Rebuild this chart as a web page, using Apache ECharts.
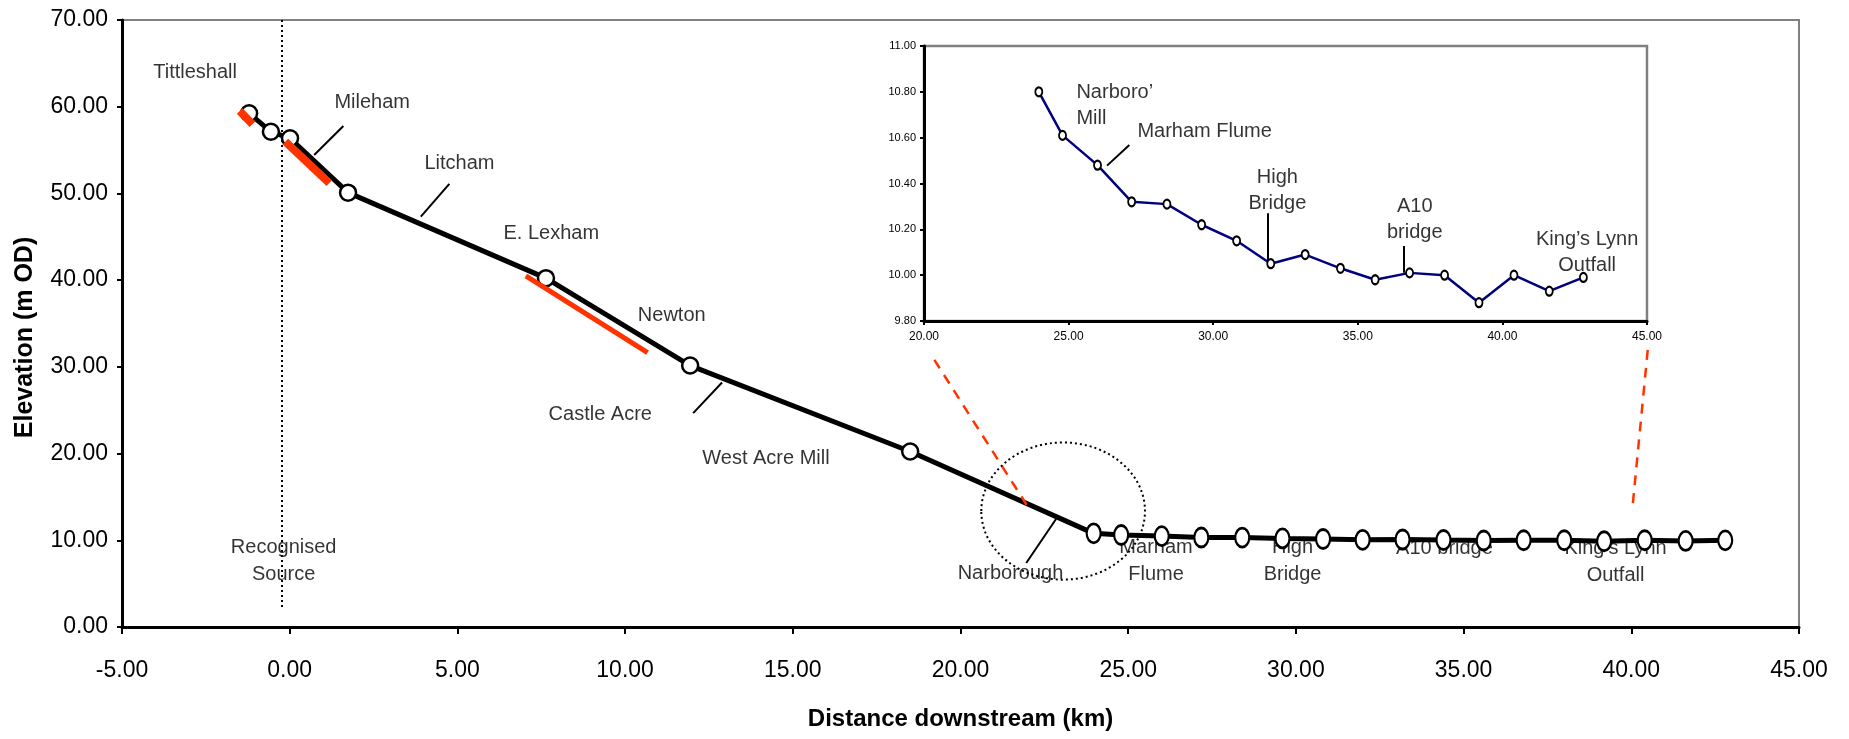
<!DOCTYPE html>
<html>
<head>
<meta charset="utf-8">
<script src="https://cdn.jsdelivr.net/npm/echarts@6/dist/echarts.min.js"></script>
<style>
html,body{margin:0;padding:0;background:#fff;}
#c{width:1849px;height:739px;}
</style>
</head>
<body>
<div id="c"></div>
<script>
// ---- Data (km downstream, elevation m OD) ----
const upstreamKm   = [-1.21, -0.56, 0.01, 1.74, 7.64, 11.94, 18.50];
const upstreamElev = [59.24, 57.12, 56.36, 50.09, 40.23, 30.15, 20.24];
const lowerKm   = [23.97, 24.79, 26.00, 27.18, 28.40, 29.60, 30.81, 31.99, 33.18, 34.40, 35.60, 36.79, 38.00, 39.19, 40.40, 41.62, 42.80];
const lowerElev = [10.80, 10.61, 10.48, 10.32, 10.31, 10.22, 10.15, 10.05, 10.09, 10.03, 9.98, 10.01, 10.00, 9.88, 10.00, 9.93, 9.99];

// red reach segments [x1,y1,x2,y2]
const redSegments = [
  [-1.49, 59.51, -1.11, 57.98],
  [-0.13, 55.97, 1.18, 51.18],
  [7.04, 40.49, 10.67, 31.65]
];
const redWidths = [8, 8, 5];

// leader lines main chart
const mainLeaders = [
  [1.60, 57.78, 0.73, 54.44],
  [4.76, 51.10, 3.91, 47.33],
  [12.89, 28.19, 12.03, 24.67],
  [22.85, 12.45, 21.96, 7.38]
];
// leader lines inset
const insetLeaders = [
  [27.10, 10.568, 26.33, 10.478],
  [31.88, 10.27, 31.88, 10.055],
  [36.59, 10.127, 36.59, 10.011]
];
// zoom indicator dashed lines
const zoomLines = [
  [19.22, 30.81, 21.97, 14.10],
  [40.49, 31.96, 40.04, 13.99]
];
// recognised source dotted line
const sourceLine = [-0.23, 70, -0.23, 2.2];
// dotted ellipse around Narborough: cx, cy, rx(km), ry(m)
const circleMark = [23.06, 13.37, 2.44, 7.91];

// annotations main chart
const mainNoteNames = ['Tittleshall', 'Mileham', 'Litcham', 'E. Lexham', 'Newton', 'Castle Acre', 'West Acre Mill',
  'Recognised\nSource', 'Narborough', 'Marham\nFlume', 'High\nBridge', 'A10 bridge', 'King\u2019s Lynn\nOutfall'];
const mainNoteKm   = [-2.82, 2.46, 5.06, 7.80, 11.39, 9.26, 14.20, -0.18, 21.49, 25.83, 29.90, 34.43, 39.53];
const mainNoteElev = [63.9, 60.5, 53.5, 45.4, 35.9, 24.5, 19.4, 7.58, 6.22, 7.56, 7.56, 9.02, 7.53];

// annotations inset
const insetNoteNames = ['Narboro\u2019\nMill', 'Marham Flume', 'High\nBridge', 'A10\nbridge', 'King\u2019s Lynn\nOutfall'];
const insetNoteKm    = [25.27, 27.38, 32.22, 36.97, 42.93];
const insetNoteElev  = [10.741, 10.626, 10.370, 10.241, 10.098];
const insetNoteAlign = ['left', 'left', 'center', 'center', 'center'];

// axis ticks
const mainX = {min: -5, max: 45, step: 5};
const mainY = {min: 0, max: 70, step: 10};
const insetX = {min: 20, max: 45, step: 5};
const insetY = {min: 9.8, max: 11.0, step: 0.2};

// ---- Build ----
const FONT = 'Liberation Sans, Arial, sans-serif';
const NARROW = 'Liberation Sans Narrow, Liberation Sans, Arial, sans-serif';
const ellipsePath = 'path://M0,50 A50,50 0 1,1 100,50 A50,50 0 1,1 0,50 Z';

const mainData = upstreamKm.map((x, i) => [x, upstreamElev[i]])
  .concat(lowerKm.map((x, i) => [x, lowerElev[i]]));
const insetData = lowerKm.map((x, i) => [x, lowerElev[i]]);

function segs(arr, widths) {
  return arr.map((s, i) => {
    const o = {coords: [[s[0], s[1]], [s[2], s[3]]]};
    if (widths) o.lineStyle = {width: widths[i]};
    return o;
  });
}

const noteLabel = {
  show: true, position: 'inside', formatter: p => p.name, color: '#000',
  textBorderWidth: 0, textBorderColor: 'transparent', textShadowBlur: 0,
  fontFamily: FONT, fontSize: 20, verticalAlign: 'middle'
};

const chart = echarts.init(document.getElementById('c'), null, {renderer: 'canvas'});
const option = {
  animation: false,
  backgroundColor: '#fff',
  grid: [
    {left: 122, right: 50, top: 20, bottom: 112, show: true, borderColor: '#808080', borderWidth: 2},
    {left: 924, top: 46, width: 723, height: 275, show: true, borderColor: '#808080', borderWidth: 2.5}
  ],
  xAxis: [
    {
      type: 'value', gridIndex: 0, min: mainX.min, max: mainX.max, interval: mainX.step,
      name: 'Distance downstream (km)', nameLocation: 'middle', nameGap: 80,
      nameTextStyle: {fontFamily: FONT, fontWeight: 'bold', fontSize: 24, color: '#000'},
      axisLine: {onZero: false, lineStyle: {color: '#000', width: 3}},
      axisTick: {show: true, inside: false, length: 7, lineStyle: {color: '#000', width: 2}},
      axisLabel: {margin: 32, fontFamily: NARROW, fontSize: 23, color: '#000', formatter: v => v.toFixed(2)},
      splitLine: {show: false}
    },
    {
      type: 'value', gridIndex: 1, min: insetX.min, max: insetX.max, interval: insetX.step,
      axisLine: {onZero: false, lineStyle: {color: '#000', width: 3}},
      axisTick: {show: true, length: 4, lineStyle: {color: '#000', width: 2}},
      axisLabel: {margin: 10, fontFamily: NARROW, fontSize: 12, color: '#000', formatter: v => v.toFixed(2)},
      splitLine: {show: false}
    }
  ],
  yAxis: [
    {
      type: 'value', gridIndex: 0, min: mainY.min, max: mainY.max, interval: mainY.step,
      name: 'Elevation (m OD)', nameLocation: 'middle', nameGap: 84, nameRotate: 90,
      nameTextStyle: {fontFamily: FONT, fontWeight: 'bold', fontSize: 25, color: '#000', padding: [0, 28, 0, 0]},
      axisLine: {onZero: false, lineStyle: {color: '#000', width: 3}},
      axisTick: {show: true, length: 5, lineStyle: {color: '#000', width: 2}},
      axisLabel: {margin: 14, fontFamily: FONT, fontSize: 23, color: '#000', formatter: v => v.toFixed(2)},
      splitLine: {show: false}
    },
    {
      type: 'value', gridIndex: 1, min: insetY.min, max: insetY.max, interval: insetY.step,
      axisLine: {onZero: false, lineStyle: {color: '#000', width: 3}},
      axisTick: {show: true, length: 4, lineStyle: {color: '#000', width: 2}},
      axisLabel: {margin: 8, fontFamily: NARROW, fontSize: 11, color: '#000', formatter: v => v.toFixed(2)},
      splitLine: {show: false}
    }
  ],
  series: [
    // annotations main (below the line)
    {
      type: 'scatter', xAxisIndex: 0, yAxisIndex: 0, z: 1, symbolSize: 0, silent: true,
      itemStyle: {color: '#000'},
      data: mainNoteNames.map((n, i) => ({name: n, value: [mainNoteKm[i], mainNoteElev[i]]})),
      label: Object.assign({}, noteLabel, {lineHeight: 27, align: 'center'})
    },
    // recognised source dotted line
    {
      type: 'lines', coordinateSystem: 'cartesian2d', xAxisIndex: 0, yAxisIndex: 0, z: 2, silent: true,
      lineStyle: {color: '#000', width: 2, type: [2, 3], opacity: 1},
      data: segs([sourceLine])
    },
    // main profile
    {
      type: 'line', xAxisIndex: 0, yAxisIndex: 0, z: 5,
      data: mainData,
      lineStyle: {color: '#000', width: 5},
      symbol: ellipsePath,
      symbolSize: (v, p) => p.dataIndex < upstreamKm.length ? [16, 16] : [14, 19],
      itemStyle: {color: '#fff', borderColor: '#000', borderWidth: 2.5},
      showAllSymbol: true
    },
    // red reach segments
    {
      type: 'lines', coordinateSystem: 'cartesian2d', xAxisIndex: 0, yAxisIndex: 0, z: 6, silent: true,
      lineStyle: {color: '#FF3300', width: 6, opacity: 1, cap: 'butt'},
      data: segs(redSegments, redWidths)
    },
    // leader lines main
    {
      type: 'lines', coordinateSystem: 'cartesian2d', xAxisIndex: 0, yAxisIndex: 0, z: 6, silent: true,
      lineStyle: {color: '#000', width: 2, opacity: 1},
      data: segs(mainLeaders)
    },
    // red dashed zoom lines
    {
      type: 'lines', coordinateSystem: 'cartesian2d', xAxisIndex: 0, yAxisIndex: 0, z: 6, silent: true,
      lineStyle: {color: '#FF3300', width: 2.5, type: [10, 8], opacity: 1},
      data: segs(zoomLines)
    },
    // dotted ellipse
    {
      type: 'custom', xAxisIndex: 0, yAxisIndex: 0, z: 7, silent: true,
      data: [circleMark],
      renderItem: (params, api) => {
        const c = api.coord([api.value(0), api.value(1)]);
        const s = api.size([api.value(2), api.value(3)]);
        return {type: 'ellipse', shape: {cx: c[0], cy: c[1], rx: s[0], ry: s[1]},
          style: {fill: 'none', stroke: '#000', lineWidth: 2, lineDash: [2, 3]}};
      }
    },
    // inset profile
    {
      type: 'line', xAxisIndex: 1, yAxisIndex: 1, z: 5,
      data: insetData,
      lineStyle: {color: '#000080', width: 2.5},
      symbol: ellipsePath, symbolSize: [7, 9],
      itemStyle: {color: '#fff', borderColor: '#000', borderWidth: 2},
      showAllSymbol: true
    },
    // inset leaders
    {
      type: 'lines', coordinateSystem: 'cartesian2d', xAxisIndex: 1, yAxisIndex: 1, z: 4, silent: true,
      lineStyle: {color: '#000', width: 2, opacity: 1},
      data: segs(insetLeaders)
    },
    // inset annotations
    {
      type: 'scatter', xAxisIndex: 1, yAxisIndex: 1, z: 3, symbolSize: 0, silent: true,
      itemStyle: {color: '#000'},
      data: insetNoteNames.map((n, i) => ({name: n, value: [insetNoteKm[i], insetNoteElev[i]],
        label: {align: insetNoteAlign[i]}})),
      label: Object.assign({}, noteLabel, {lineHeight: 26})
    }
  ]
};
chart.setOption(option);
</script>
</body>
</html>
